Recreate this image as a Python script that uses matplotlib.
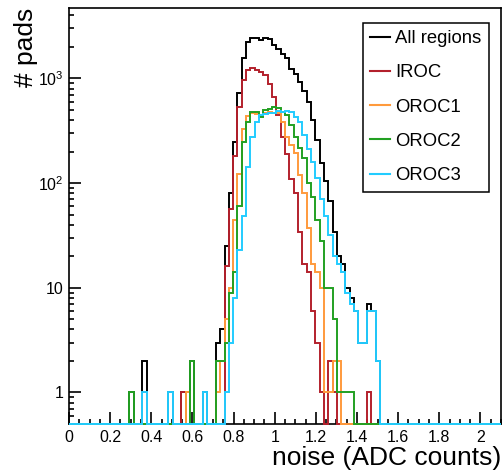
import numpy as np
import matplotlib
matplotlib.use("Agg")
import matplotlib.pyplot as plt
from matplotlib.lines import Line2D
from matplotlib.ticker import MultipleLocator, LogLocator, FuncFormatter, NullFormatter

plt.rcParams['font.family'] = ['Liberation Sans', 'DejaVu Sans']
plt.rcParams['mathtext.fontset'] = 'custom'
plt.rcParams['mathtext.rm'] = 'Liberation Sans'

# histogram binning: 100 bins from 0 to 2.1
n_bins = 100
x_min, x_max = 0.0, 2.1
first_bin = 14  # counts below start at this bin index

#             k=14                               k=24                               k=34
all_regions = [1, 0, 0, 2, 0, 0, 0, 0, 0, 1,     0, 0, 1, 1, 2, 0, 0, 1, 0, 0,
               3, 4, 25, 80, 245, 730, 1550, 2220, 2420, 2450,
               2350, 2450, 2400, 2100, 1900, 1720, 1550, 1240, 1100, 930,
               760, 590, 400, 256, 154, 105, 68, 34, 20, 17,
               10, 8, 6, 3, 3, 7, 6, 2]
iroc = [0, 0, 0, 1, 0, 0, 0, 0, 0, 0,     0, 0, 1, 0, 0, 0, 0, 0, 0, 0,
        0, 0, 16, 57, 180, 530, 955, 1190, 1260, 1190,
        1150, 1070, 890, 660, 450, 275, 190, 110, 80, 34,
        17, 14, 6, 3, 1, 0, 2, 1, 0, 0,
        0, 0, 0, 0, 0, 1, 0, 0]
oroc1 = [0, 0, 0, 0, 0, 0, 0, 0, 0, 0,     0, 0, 0, 1, 0, 0, 0, 0, 0, 0,
         1, 2, 5, 10, 44, 123, 330, 435, 470, 460,
         440, 470, 480, 470, 470, 380, 275, 230, 195, 120,
         81, 37, 17, 14, 10, 1, 1, 2, 2, 0,
         0, 0, 0, 0, 0, 0, 0, 0]
oroc2 = [1, 0, 0, 0, 0, 0, 0, 0, 0, 0,     0, 0, 0, 0, 2, 0, 0, 0, 0, 0,
         2, 2, 3, 9, 14, 60, 245, 380, 480, 480,
         430, 500, 515, 530, 520, 480, 445, 355, 275, 215,
         175, 100, 73, 44, 28, 10, 10, 5, 1, 1,
         1, 1, 0, 0, 0, 0, 0, 0]
oroc3 = [0, 0, 0, 1, 0, 0, 0, 0, 0, 1,     0, 0, 0, 0, 0, 0, 0, 1, 0, 0,
         0, 0, 1, 3, 8, 23, 49, 142, 275, 380,
         445, 460, 465, 470, 490, 480, 485, 480, 430, 380,
         290, 210, 160, 112, 71, 48, 32, 20, 17, 14,
         9, 7, 6, 3, 3, 6, 6, 2]

labels = ['All regions', 'IROC', 'OROC1', 'OROC2', 'OROC3']
colors = ['black', '#b3202c', '#ff9a3c', '#22a022', '#22ccff']
series = [all_regions, iroc, oroc1, oroc2, oroc3]

y_min, y_max = 0.5, 4700

edges = np.linspace(x_min, x_max, n_bins + 1)

fig = plt.figure(figsize=(5.04, 4.73), dpi=100)
ax = fig.add_axes([69/504, 1-424/473, (501-69)/504, (424-8)/473])

for vals, col, lab in zip(series, colors, labels):
    counts = np.zeros(n_bins)
    counts[first_bin:first_bin+len(vals)] = vals
    # empty bins are drawn along the bottom edge like ROOT does
    shown = np.where(counts > 0, counts, y_min)
    ax.stairs(shown, edges, baseline=None, color=col, lw=1.4,
              clip_on=False, zorder=3, label=lab)

ax.set_yscale('log')
ax.set_xlim(x_min, x_max)
ax.set_ylim(y_min, y_max)

ax.xaxis.set_major_locator(MultipleLocator(0.2))
ax.xaxis.set_minor_locator(MultipleLocator(0.05))
ax.xaxis.set_major_formatter(FuncFormatter(lambda v, p: f"{v:g}"))

def ylab(v, p):
    if v == 1:
        return "1"
    if v == 10:
        return "10"
    e = int(round(np.log10(v)))
    return r"$\mathregular{10^{%d}}$" % e

ax.yaxis.set_major_locator(LogLocator(base=10, numticks=10))
ax.yaxis.set_minor_locator(LogLocator(base=10, subs=np.arange(2, 10), numticks=20))
ax.yaxis.set_major_formatter(FuncFormatter(ylab))
ax.yaxis.set_minor_formatter(NullFormatter())

ax.tick_params(which='both', direction='in', top=False, right=False,
               width=1.2, labelsize=11.5, pad=4, colors='black')
ax.tick_params(which='major', length=8.6)
ax.tick_params(which='minor', length=3.6)
for s in ax.spines.values():
    s.set_linewidth(1.2)

handles = [Line2D([], [], color=c, lw=1.5) for c in colors]
leg = ax.legend(handles, labels, loc='upper left',
                bbox_to_anchor=(362.7/504, 1-22.7/473), bbox_transform=fig.transFigure,
                fontsize=13.3, frameon=True, fancybox=False, framealpha=1,
                edgecolor='black', borderpad=0.41, handlelength=1.08,
                handletextpad=0.27, labelspacing=0.93, borderaxespad=0)
leg.get_frame().set_linewidth(1.1)

fig.text(26/504, 1-8/473, '# pads', rotation=90, ha='center', va='top', fontsize=19)
fig.text(501/504, 1-465/473, 'noise (ADC counts)', ha='right', va='baseline', fontsize=19)

fig.savefig('out.png', dpi=100)
